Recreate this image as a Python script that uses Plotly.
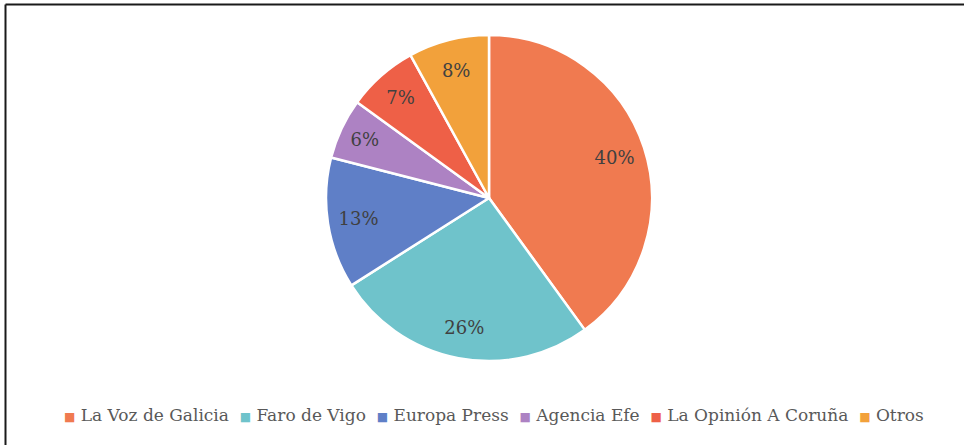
import plotly.graph_objects as go

# data
labels = ["La Voz de Galicia", "Faro de Vigo", "Europa Press", "Agencia Efe",
          "La Opinión A Coruña", "Otros"]
values = [40, 26, 13, 6, 7, 8]
colors = ["#F07A50", "#6FC3CB", "#5F7FC7", "#AD82C3", "#EE6047", "#F2A13B"]

W, H = 964, 445
cx, cy, r = 489, 198, 163
dom = dict(x=[(cx - r) / W, (cx + r) / W], y=[1 - (cy + r) / H, 1 - (cy - r) / H])

fig = go.Figure()
# the pie itself
fig.add_trace(go.Pie(
    labels=labels, values=values, sort=False, direction="clockwise", rotation=0,
    marker=dict(colors=colors, line=dict(color="white", width=2.5)),
    textinfo="none", domain=dom, hoverinfo="label+percent", showlegend=False,
))
# transparent ring on top, only to put the percentages further out
fig.add_trace(go.Pie(
    labels=labels, values=values, sort=False, direction="clockwise", rotation=0,
    hole=0.62,
    marker=dict(colors=["rgba(0,0,0,0)"] * len(values), line=dict(width=0)),
    texttemplate="%{percent:.0%}", textposition="inside",
    insidetextorientation="horizontal",
    textfont=dict(family="DejaVu Serif", size=18, color="#404040"),
    domain=dom, hoverinfo="skip", showlegend=False,
))

# legend line built from the labels/colours
legend_txt = "  ".join(
    f"<span style='font-size:12px;color:{c}'>■</span> {l}" for l, c in zip(labels, colors)
)

fig.update_layout(
    width=W, height=H,
    margin=dict(l=0, r=0, t=0, b=0),
    paper_bgcolor="white",
    font=dict(family="DejaVu Serif"),
    annotations=[dict(
        text=legend_txt, xref="paper", yref="paper", x=494 / W, y=1 - 415 / H,
        xanchor="center", yanchor="middle", showarrow=False,
        font=dict(family="DejaVu Serif", size=17, color="#595959"),
    )],
    shapes=[
        dict(type="line", xref="paper", yref="paper", x0=5.5 / W, x1=1, y0=1 - 4.5 / H, y1=1 - 4.5 / H,
             line=dict(color="#1a1a1a", width=2)),
        dict(type="line", xref="paper", yref="paper", x0=5.5 / W, x1=5.5 / W, y0=0, y1=1 - 4.5 / H,
             line=dict(color="#1a1a1a", width=2)),
    ],
)

fig.write_html("out.html", config={"displayModeBar": False},
               post_script="document.body.style.margin='0px';document.body.style.overflow='hidden';")
